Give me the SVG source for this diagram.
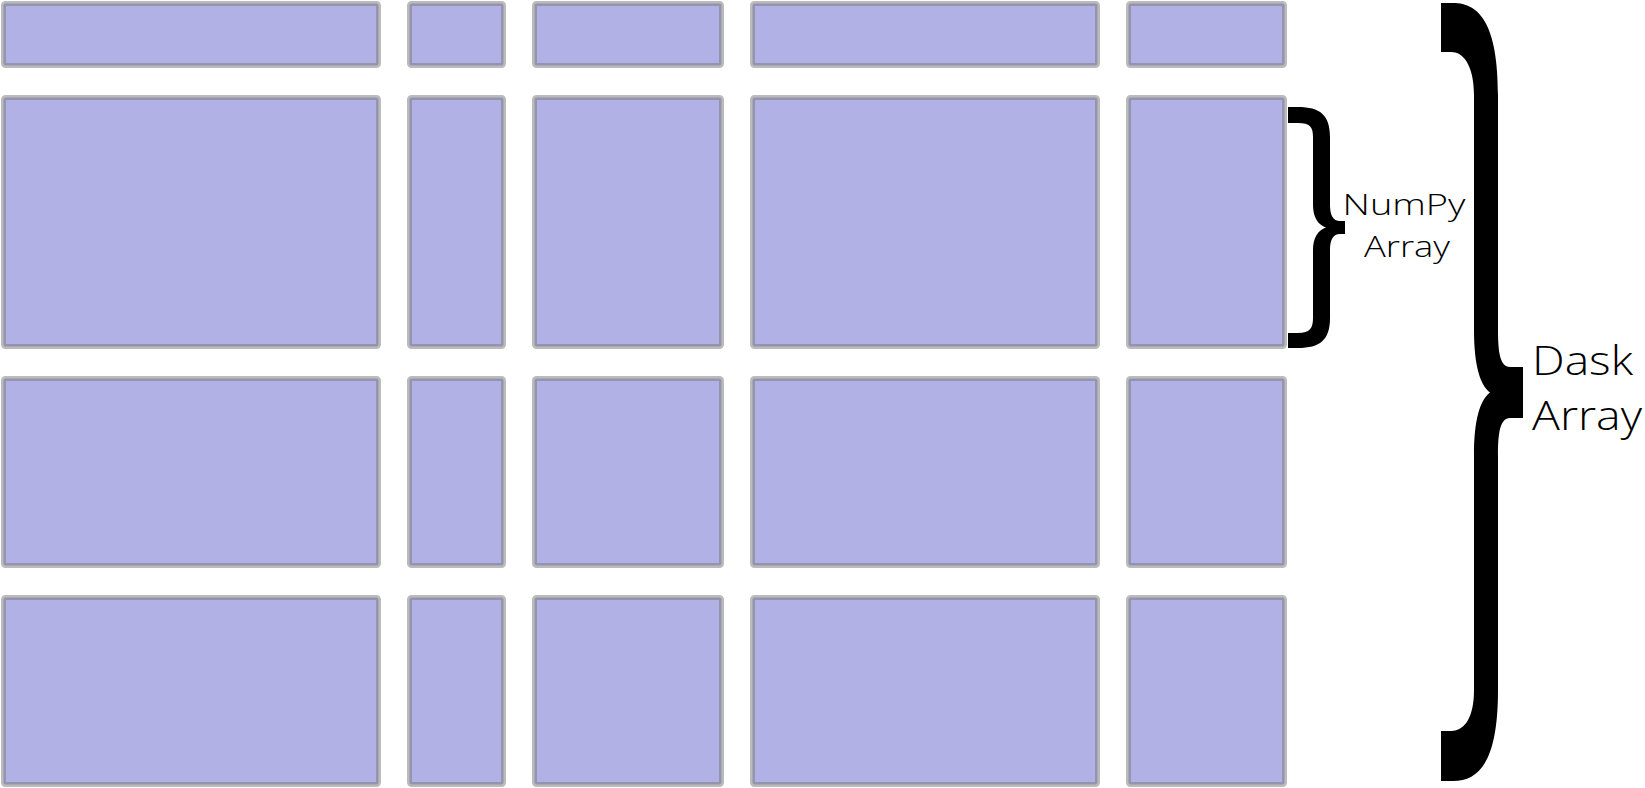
<svg xmlns="http://www.w3.org/2000/svg" width="1645" height="788" viewBox="0 0 1645 788">
<style>
.chunk{fill:#b1b1e5;stroke:#787878;stroke-opacity:0.5;stroke-width:5;}
.brace{fill:#000;}
.lbl{font-family:"Open Sans","Liberation Sans",sans-serif;font-weight:300;fill:#000;text-anchor:middle;}
</style>
<rect width="1645" height="788" fill="#fff"/>
<g id="row1">
<g id="r1c1"><rect class="chunk" x="3.5" y="3.5" width="375" height="62" rx="2"/></g>
<g id="r1c2"><rect class="chunk" x="409.5" y="3.5" width="94" height="62" rx="2"/></g>
<g id="r1c3"><rect class="chunk" x="534.5" y="3.5" width="187" height="62" rx="2"/></g>
<g id="r1c4"><rect class="chunk" x="752.5" y="3.5" width="345" height="62" rx="2"/></g>
<g id="r1c5"><rect class="chunk" x="1128.5" y="3.5" width="156" height="62" rx="2"/></g>
</g>
<g id="row2">
<g id="r2c1"><rect class="chunk" x="3.5" y="97.5" width="375" height="249" rx="2"/></g>
<g id="r2c2"><rect class="chunk" x="409.5" y="97.5" width="94" height="249" rx="2"/></g>
<g id="r2c3"><rect class="chunk" x="534.5" y="97.5" width="187" height="249" rx="2"/></g>
<g id="r2c4"><rect class="chunk" x="752.5" y="97.5" width="345" height="249" rx="2"/></g>
<g id="r2c5"><rect class="chunk" x="1128.5" y="97.5" width="156" height="249" rx="2"/></g>
</g>
<g id="row3">
<g id="r3c1"><rect class="chunk" x="3.5" y="378.5" width="375" height="187" rx="2"/></g>
<g id="r3c2"><rect class="chunk" x="409.5" y="378.5" width="94" height="187" rx="2"/></g>
<g id="r3c3"><rect class="chunk" x="534.5" y="378.5" width="187" height="187" rx="2"/></g>
<g id="r3c4"><rect class="chunk" x="752.5" y="378.5" width="345" height="187" rx="2"/></g>
<g id="r3c5"><rect class="chunk" x="1128.5" y="378.5" width="156" height="187" rx="2"/></g>
</g>
<g id="row4">
<g id="r4c1"><rect class="chunk" x="3.5" y="597.5" width="375" height="187" rx="2"/></g>
<g id="r4c2"><rect class="chunk" x="409.5" y="597.5" width="94" height="187" rx="2"/></g>
<g id="r4c3"><rect class="chunk" x="534.5" y="597.5" width="187" height="187" rx="2"/></g>
<g id="r4c4"><rect class="chunk" x="752.5" y="597.5" width="345" height="187" rx="2"/></g>
<g id="r4c5"><rect class="chunk" x="1128.5" y="597.5" width="156" height="187" rx="2"/></g>
</g>
<g id="connectors">
<g id="numpy-brace">
<path class="brace" d="M1288,107 H1298 C1320,107 1330,115 1330,137 V205 C1330,215 1333,221 1340,221 H1345 V234 H1340 C1333,234 1330,240 1330,250 V318 C1330,340 1320,348 1298,348 H1288 V333 H1298 C1310,333 1313,328 1313,318 V250 C1313,238 1318,230 1326,227.5 C1318,225 1313,217 1313,205 V137 C1313,127 1310,123 1298,123 H1288 Z"/>
</g>
<g id="dask-brace">
<path class="brace" d="M1441,3 H1453 C1480,3 1498,25 1498,95 V330 C1498,352 1500,367 1510,367 H1523 V418 H1510 C1500,418 1498,433 1498,455 V690 C1498,760 1480,781 1453,781 H1441 V731 H1451 C1466,731 1474,715 1474,690 V455 C1474,420 1480,400 1490,392.5 C1480,385 1474,365 1474,330 V95 C1474,70 1466,52 1451,52 H1441 Z"/>
</g>
</g>
<g id="numpy-label">
<text class="lbl" x="1404" y="215" font-size="30" textLength="123" lengthAdjust="spacingAndGlyphs">NumPy</text>
<text class="lbl" x="1407" y="257" font-size="30" textLength="86" lengthAdjust="spacingAndGlyphs">Array</text>
</g>
<g id="dask-label">
<text class="lbl" x="1582.5" y="375" font-size="40" textLength="101" lengthAdjust="spacingAndGlyphs">Dask</text>
<text class="lbl" x="1587" y="430" font-size="40" textLength="110" lengthAdjust="spacingAndGlyphs">Array</text>
</g>
</svg>
